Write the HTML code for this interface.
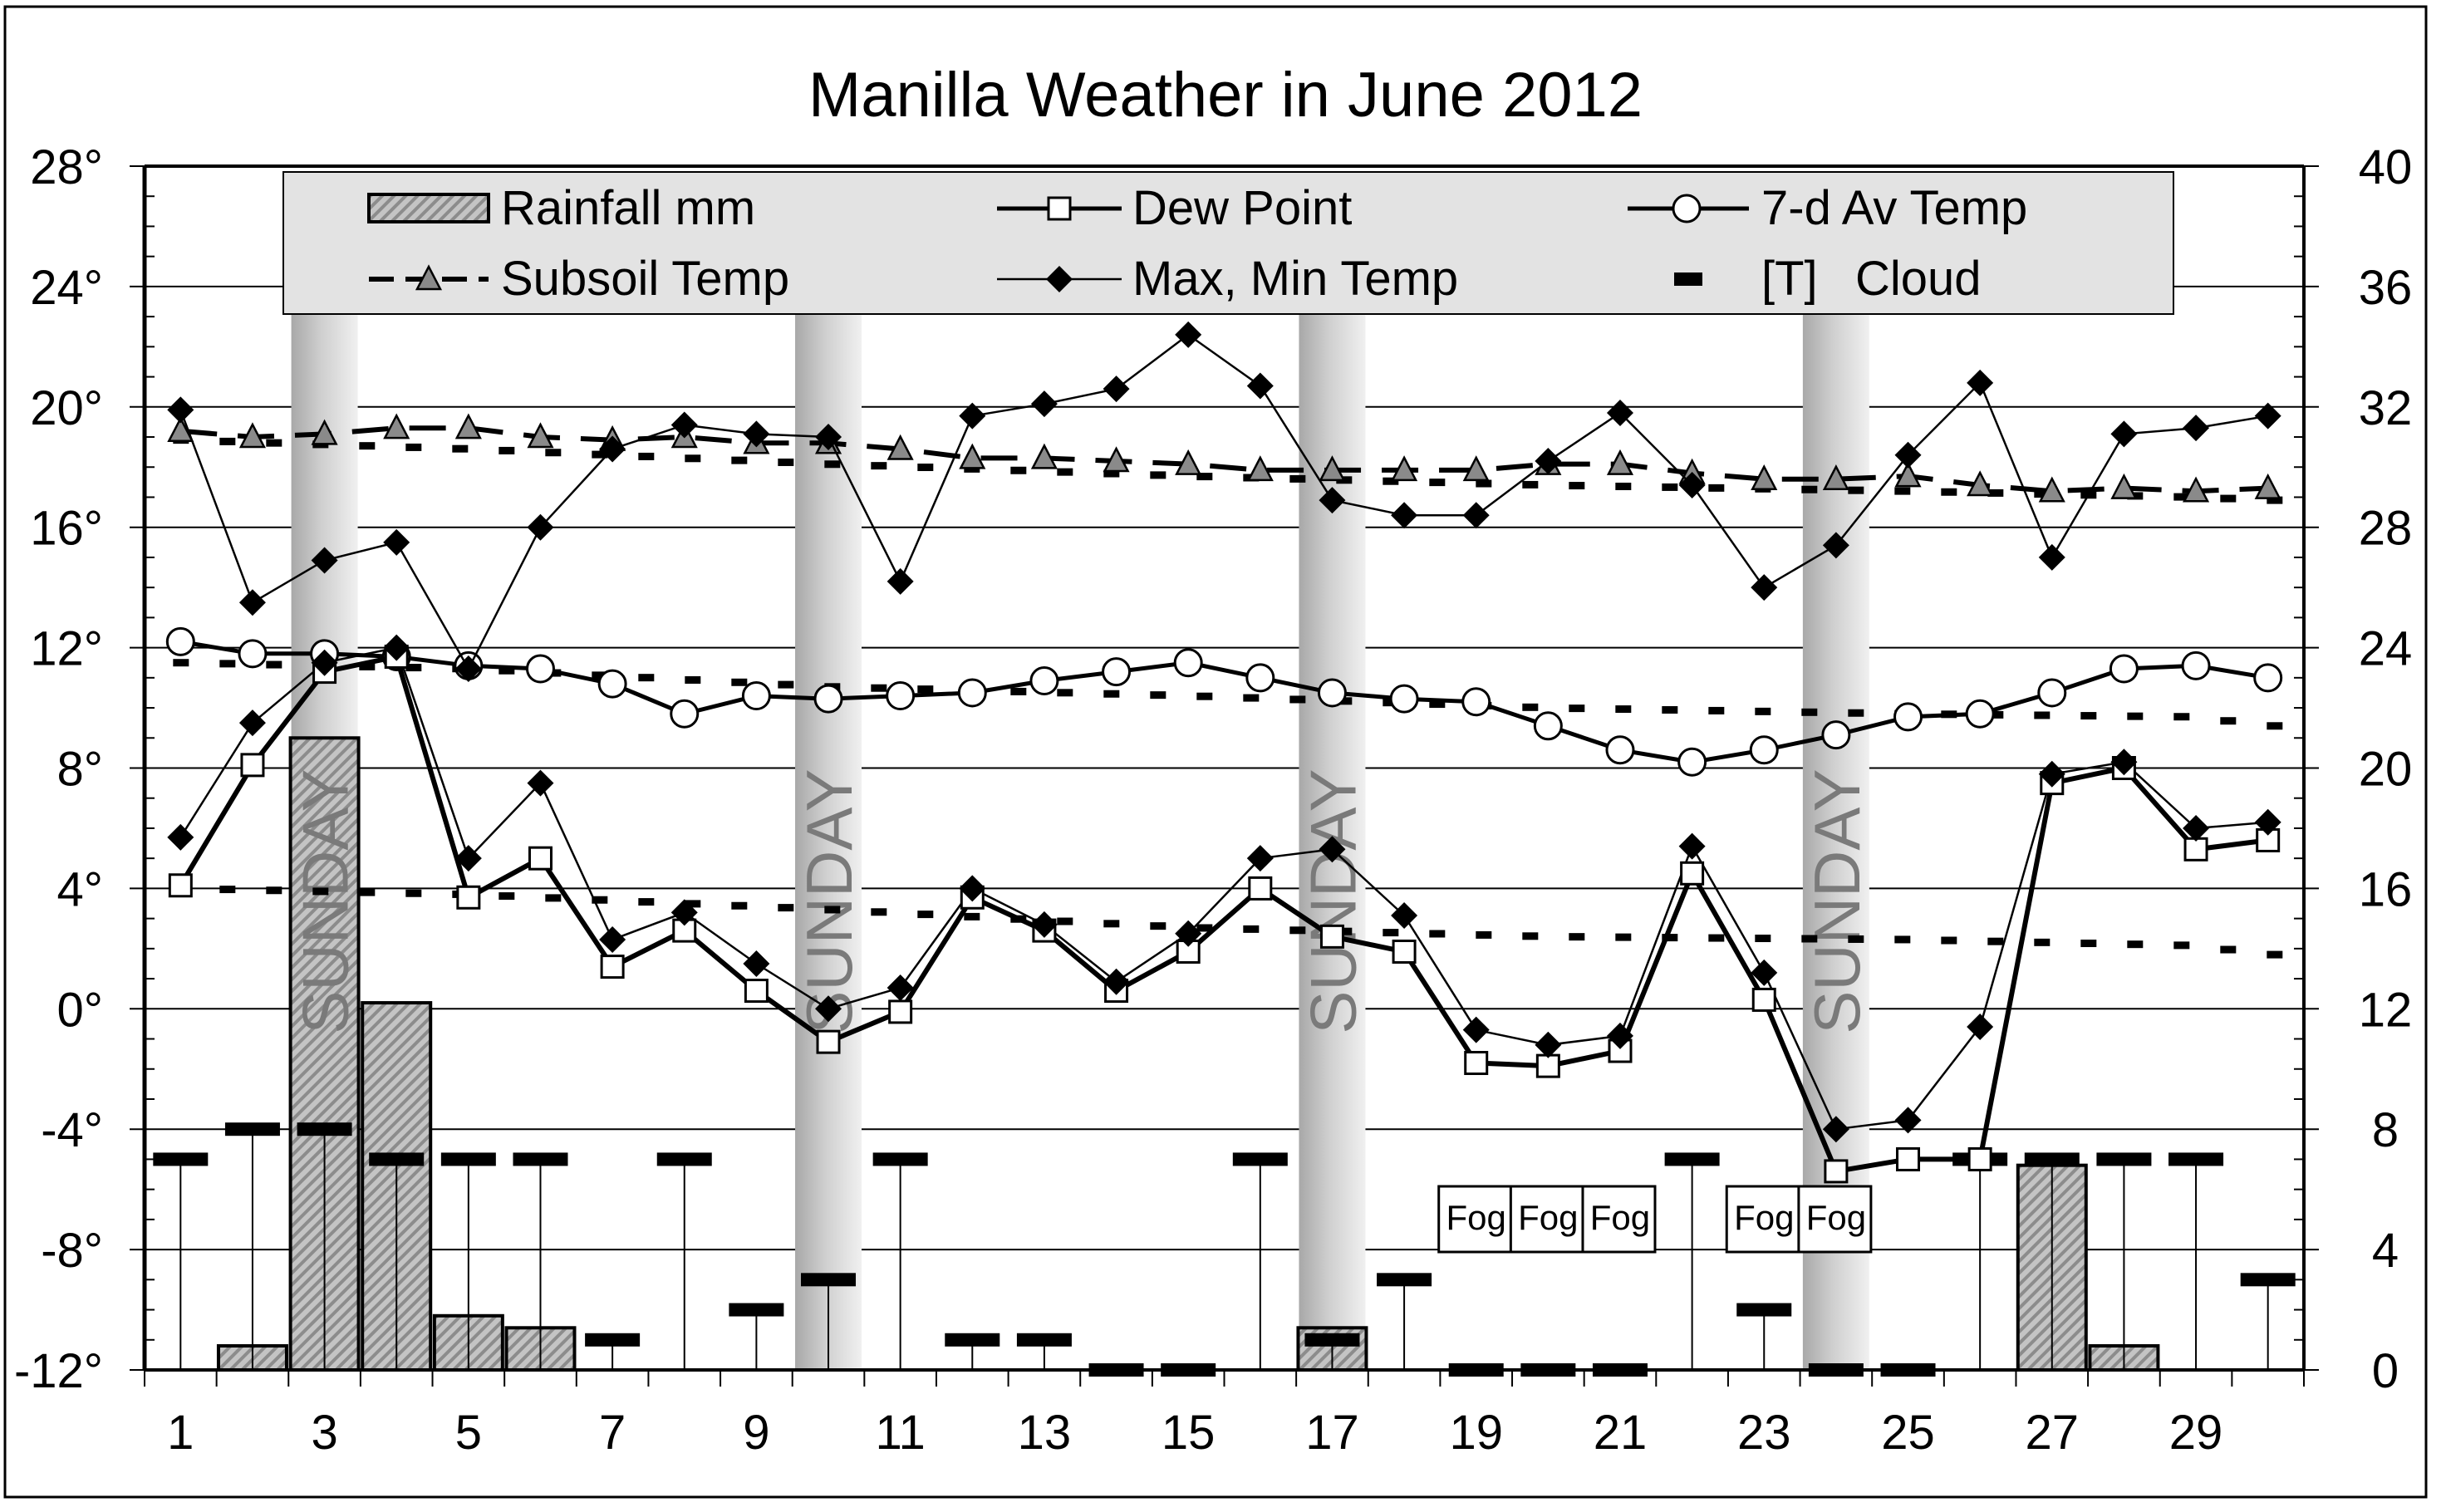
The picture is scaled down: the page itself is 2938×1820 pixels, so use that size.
<!DOCTYPE html>
<html><head><meta charset="utf-8"><style>
html,body{margin:0;padding:0;background:#fff}
svg{display:block}
text{font-family:"Liberation Sans",Arial,sans-serif}
</style></head><body>
<svg id="s" width="2938" height="1820" viewBox="0 0 2938 1820" xmlns="http://www.w3.org/2000/svg">
<defs>
<pattern id="hatch" width="10" height="10" patternUnits="userSpaceOnUse" patternTransform="rotate(45)">
<rect width="10" height="10" fill="#c4c4c4"/><rect width="4" height="10" fill="#8c8c8c"/>
</pattern>
<linearGradient id="sun" x1="0" x2="1" y1="0" y2="0">
<stop offset="0" stop-color="#a8a8a8"/><stop offset="0.45" stop-color="#cfcfcf"/><stop offset="1" stop-color="#f0f0f0"/>
</linearGradient>
</defs>
<g id="g"></g>
</svg>
<script>
var NS="http://www.w3.org/2000/svg",G=document.getElementById("g");
function el(t,a,txt){var e=document.createElementNS(NS,t);for(var k in a)e.setAttribute(k,a[k]);if(txt!=null)e.textContent=txt;G.appendChild(e);return e;}
var L=174,R=2773,T=200,B=1649,DW=(R-L)/30,U=(B-T)/40;
function X(d){return L+(d-0.5)*DW}
function YL(v){return T+(28-v)*U}
function YR(v){return B-v*U}
el("rect",{x:6,y:8,width:2914,height:1794,fill:"none",stroke:"#000","stroke-width":3});
el("text",{x:1475,y:140,"font-size":76,"text-anchor":"middle"},"Manilla Weather in June 2012");
for(var v=-8;v<=24;v+=4)el("line",{x1:L-18,x2:R+18,y1:YL(v),y2:YL(v),stroke:"#000","stroke-width":2});
el("line",{x1:L-18,x2:L,y1:T,y2:T,stroke:"#000","stroke-width":2});
el("line",{x1:L-18,x2:L,y1:B,y2:B,stroke:"#000","stroke-width":2});
el("line",{x1:R,x2:R+18,y1:T,y2:T,stroke:"#000","stroke-width":2});
el("line",{x1:R,x2:R+18,y1:B,y2:B,stroke:"#000","stroke-width":2});
for(var i=0;i<=40;i++){if(i%4){el("line",{x1:L,x2:L+12,y1:T+i*U,y2:T+i*U,stroke:"#000","stroke-width":2});el("line",{x1:R-12,x2:R,y1:T+i*U,y2:T+i*U,stroke:"#000","stroke-width":2});}}
for(var k=0;k<=30;k++)el("line",{x1:L+k*DW,x2:L+k*DW,y1:B,y2:B+20,stroke:"#000","stroke-width":2});
[3,10,17,24].forEach(function(d){el("rect",{x:X(d)-40,y:377,width:80,height:B-377,fill:"url(#sun)"});});
var rain={2:0.8,3:21,4:12.2,5:1.8,6:1.4,17:1.4,27:6.8,28:0.8};
for(var d in rain){var y=YR(rain[d]);el("rect",{x:X(+d)-41,y:y,width:82,height:B-y,fill:"url(#hatch)",stroke:"#000","stroke-width":4});}
[3,10,17,24].forEach(function(d){el("text",{x:0,y:0,"font-size":78,fill:"#7a7a7a","text-anchor":"middle",transform:"translate("+(X(d)+28)+",1085) rotate(-90)"},"SUNDAY");});
var cloud=[7,8,8,7,7,7,1,7,2,3,7,1,1,0,0,7,1,3,0,0,0,7,2,0,0,7,7,7,7,3];
cloud.forEach(function(c,i){var d=i+1,y=YR(c);if(c>0)el("line",{x1:X(d),x2:X(d),y1:y,y2:B,stroke:"#000","stroke-width":2});el("rect",{x:X(d)-33,y:y-8,width:66,height:16,fill:"#000"});});
[19,20,21,23,24].forEach(function(d){el("rect",{x:X(d)-45,y:1428,width:87,height:79,fill:"#fff",stroke:"#000","stroke-width":3});el("text",{x:X(d),y:1480,"font-size":42,"text-anchor":"middle"},"Fog");});
function poly(pts,attrs){var s=pts.map(function(p){return p[0].toFixed(1)+","+p[1].toFixed(1)}).join(" ");attrs.points=s;attrs.fill="none";return el("polyline",attrs);}
function interp(keys,d){for(var i=0;i<keys.length-1;i++){if(d>=keys[i][0]&&d<=keys[i+1][0]){var t=(d-keys[i][0])/(keys[i+1][0]-keys[i][0]);return keys[i][1]+t*(keys[i+1][1]-keys[i][1]);}}return keys[keys.length-1][1];}
var normals=[[[1,18.9],[5,18.6],[10,18.1],[15,17.7],[20,17.4],[25,17.2],[29,17.0],[30,16.9]],
[[1,11.5],[5,11.3],[10,10.7],[15,10.4],[20,10.0],[25,9.8],[29,9.7],[30,9.4]],
[[1,4.0],[5,3.8],[10,3.3],[15,2.7],[20,2.4],[25,2.3],[29,2.1],[30,1.8]]];
normals.forEach(function(n){for(var x=X(1)-9;x<X(30);x+=56){var d=(x+9-L)/DW+0.5;el("rect",{x:x,y:YL(interp(n,d))-4.5,width:19,height:9,fill:"#000"});}});
var sub=[19.2,19.0,19.1,19.3,19.3,19.0,18.9,19.0,18.8,18.8,18.6,18.3,18.3,18.2,18.1,17.9,17.9,17.9,17.9,18.1,18.1,17.8,17.6,17.6,17.7,17.4,17.2,17.3,17.2,17.3];
poly(sub.map(function(v,i){return[X(i+1),YL(v)]}),{stroke:"#000","stroke-width":6,"stroke-dasharray":"44 25"});
function tri(x,y){el("polygon",{points:(x-14)+","+(y+12)+" "+(x+14)+","+(y+12)+" "+x+","+(y-15),fill:"#8a8a8a",stroke:"#000","stroke-width":2.5});}
sub.forEach(function(v,i){tri(X(i+1),YL(v));});
var av=[12.2,11.8,11.8,11.7,11.4,11.3,10.8,9.8,10.4,10.3,10.4,10.5,10.9,11.2,11.5,11.0,10.5,10.3,10.2,9.4,8.6,8.2,8.6,9.1,9.7,9.8,10.5,11.3,11.4,11.0];
poly(av.map(function(v,i){return[X(i+1),YL(v)]}),{stroke:"#000","stroke-width":5});
av.forEach(function(v,i){el("circle",{cx:X(i+1),cy:YL(v),r:16,fill:"#fff",stroke:"#000","stroke-width":3});});
var mx=[19.9,13.5,14.9,15.5,11.3,16.0,18.6,19.4,19.1,19.0,14.2,19.7,20.1,20.6,22.4,20.7,16.9,16.4,16.4,18.2,19.8,17.4,14.0,15.4,18.4,20.8,15.0,19.1,19.3,19.7];
var mn=[5.7,9.5,11.5,12.0,5.0,7.5,2.3,3.2,1.5,0.0,0.7,4.0,2.8,0.9,2.5,5.0,5.3,3.1,-0.7,-1.2,-0.9,5.4,1.2,-4.0,-3.7,-0.6,7.8,8.2,6.0,6.2];
var dp=[4.1,8.1,11.2,11.7,3.7,5.0,1.4,2.6,0.6,-1.1,-0.1,3.7,2.6,0.6,1.9,4.0,2.4,1.9,-1.8,-1.9,-1.4,4.5,0.3,-5.4,-5.0,-5.0,7.5,8.0,5.3,5.6];
poly(mx.map(function(v,i){return[X(i+1),YL(v)]}),{stroke:"#000","stroke-width":2.5});
poly(mn.map(function(v,i){return[X(i+1),YL(v)]}),{stroke:"#000","stroke-width":2.5});
poly(dp.map(function(v,i){return[X(i+1),YL(v)]}),{stroke:"#000","stroke-width":6});
dp.forEach(function(v,i){var x=X(i+1),y=YL(v);el("rect",{x:x-13,y:y-13,width:26,height:26,fill:"#fff",stroke:"#000","stroke-width":3});});
function dia(x,y){el("polygon",{points:x+","+(y-16)+" "+(x+16)+","+y+" "+x+","+(y+16)+" "+(x-16)+","+y,fill:"#000"});}
mx.forEach(function(v,i){dia(X(i+1),YL(v));});
mn.forEach(function(v,i){dia(X(i+1),YL(v));});
el("line",{x1:L,x2:R,y1:T,y2:T,stroke:"#000","stroke-width":4});
el("line",{x1:L,x2:R,y1:B,y2:B,stroke:"#000","stroke-width":4});
el("line",{x1:L,x2:L,y1:T,y2:B,stroke:"#000","stroke-width":5});
el("line",{x1:R,x2:R,y1:T,y2:B,stroke:"#000","stroke-width":4});
el("rect",{x:341,y:207,width:2275,height:171,fill:"#e3e3e3",stroke:"#000","stroke-width":2});
el("rect",{x:444,y:234,width:144,height:33,fill:"url(#hatch)",stroke:"#000","stroke-width":4});
el("text",{x:603,y:270,"font-size":58},"Rainfall mm");
el("line",{x1:1200,x2:1350,y1:251,y2:251,stroke:"#000","stroke-width":5});
el("rect",{x:1262,y:238,width:26,height:26,fill:"#fff",stroke:"#000","stroke-width":3});
el("text",{x:1363,y:270,"font-size":58},"Dew Point");
el("line",{x1:1959,x2:2105,y1:251,y2:251,stroke:"#000","stroke-width":5});
el("circle",{cx:2030,cy:251,r:16,fill:"#fff",stroke:"#000","stroke-width":3});
el("text",{x:2120,y:270,"font-size":58},"7-d Av Temp");
el("line",{x1:444,x2:588,y1:336,y2:336,stroke:"#000","stroke-width":6,"stroke-dasharray":"30 14"});
tri(516,336);
el("text",{x:603,y:355,"font-size":58},"Subsoil Temp");
el("line",{x1:1200,x2:1350,y1:336,y2:336,stroke:"#000","stroke-width":2.5});
dia(1275,336);
el("text",{x:1363,y:355,"font-size":58},"Max, Min Temp");
el("rect",{x:2015,y:328,width:34,height:16,fill:"#000"});
el("text",{x:2120,y:355,"font-size":58},"[T]");
el("text",{x:2233,y:355,"font-size":58},"Cloud");
for(var v=-12;v<=28;v+=4)el("text",{x:124,y:YL(v)+21,"font-size":58,"text-anchor":"end"},v+"°");
for(var v=0;v<=40;v+=4)el("text",{x:2871,y:YR(v)+21,"font-size":58,"text-anchor":"middle"},v);
for(var d=1;d<=29;d+=2)el("text",{x:X(d),y:1744,"font-size":58,"text-anchor":"middle"},d);
</script>
</body></html>
